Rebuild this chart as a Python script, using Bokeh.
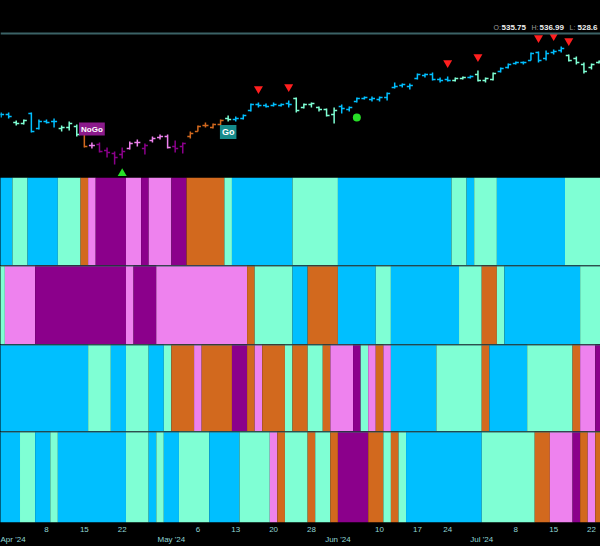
import pandas as pd
from bokeh.plotting import figure
from bokeh.layouts import column
from bokeh.models import (Range1d, FixedTicker, LinearAxis, Span, Label,
                          ColumnDataSource, GlobalInlineStyleSheet)
from bokeh.embed import file_html
from bokeh.resources import INLINE

# ---------------- data ----------------
holidays = ["2024-03-29", "2024-05-27", "2024-06-19", "2024-07-04"]
dates = [d for d in pd.bdate_range("2024-03-28", "2024-07-23")
         if d.strftime("%Y-%m-%d") not in holidays]

opens = [491.8, 491.8, 485.4, 484.6, 492.6, 480.6, 486.2, 486.2, 480.6, 481.4,
         482.2, 478.2, 467.0, 467.8, 463.0, 460.6, 459.8, 464.6, 469.4, 464.6,
         471.0, 473.4, 474.2, 466.2, 466.2, 474.2, 478.2, 483.0, 481.4, 483.8,
         488.6, 487.8, 488.6, 495.0, 499.8, 499.0, 499.0, 499.0, 500.6, 504.6,
         497.4, 499.8, 497.4, 495.8, 491.8, 498.2, 495.8, 502.2, 504.6, 503.8,
         503.8, 505.4, 513.4, 515.0, 514.2, 520.6, 523.0, 523.8, 519.8, 519.8,
         519.0, 520.6, 521.4, 523.8, 519.0, 519.8, 526.2, 529.4, 532.6, 533.4,
         535.0, 541.4, 536.6, 541.4, 543.0, 539.0, 536.6, 531.8, 529.4, 533.4]
highs = [493.4, 493.4, 487.0, 487.8, 493.4, 487.8, 487.8, 488.6, 483.0, 486.2,
         483.8, 479.8, 469.4, 469.4, 465.4, 462.2, 465.4, 470.2, 471.8, 468.6,
         474.2, 475.8, 475.8, 471.0, 469.4, 478.2, 483.0, 485.4, 484.6, 487.8,
         491.0, 490.2, 491.8, 500.6, 501.4, 500.6, 501.4, 500.6, 503.0, 505.4,
         500.6, 501.4, 498.2, 496.6, 497.4, 499.8, 498.2, 505.4, 506.2, 506.2,
         506.2, 509.4, 517.4, 516.6, 516.6, 524.6, 524.6, 525.4, 521.4, 522.2,
         521.4, 522.2, 523.0, 527.0, 521.4, 525.4, 529.4, 532.6, 534.2, 534.2,
         541.4, 542.2, 543.0, 543.8, 546.2, 539.8, 538.2, 533.4, 532.6, 535.0]
lows = [489.4, 488.6, 483.0, 483.8, 477.4, 479.8, 484.6, 481.4, 478.2, 479.0,
        474.2, 465.4, 464.6, 461.4, 457.4, 451.8, 456.6, 463.8, 466.2, 459.8,
        469.4, 471.8, 464.6, 461.4, 460.6, 472.6, 478.2, 481.4, 480.6, 483.0,
        486.2, 486.2, 487.8, 494.2, 497.4, 497.4, 498.2, 498.2, 497.4, 493.4,
        496.6, 497.4, 494.2, 490.2, 484.6, 492.6, 494.2, 501.4, 503.8, 502.2,
        502.2, 503.0, 512.6, 513.4, 511.8, 519.8, 521.4, 519.0, 517.4, 518.2,
        518.2, 519.8, 520.6, 518.2, 517.4, 519.0, 525.4, 528.6, 531.8, 531.8,
        535.0, 533.4, 535.0, 539.8, 541.4, 534.2, 531.8, 524.6, 527.8, 532.6]
closes = [491.8, 490.2, 484.6, 487.0, 478.2, 486.2, 485.4, 486.2, 481.4, 484.6,
          475.8, 466.2, 467.0, 462.2, 461.4, 457.4, 462.2, 468.6, 469.4, 467.0,
          472.6, 474.2, 465.4, 464.6, 468.6, 476.6, 482.2, 483.0, 483.8, 487.0,
          487.8, 488.6, 491.0, 499.8, 499.0, 498.2, 499.8, 499.8, 499.8, 495.0,
          499.8, 500.6, 495.8, 491.0, 495.0, 496.6, 497.4, 504.6, 505.4, 504.6,
          505.4, 508.6, 514.2, 515.8, 515.0, 523.8, 523.8, 519.8, 519.0, 519.0,
          520.6, 521.4, 522.2, 519.0, 520.6, 524.6, 528.6, 531.8, 533.4, 533.4,
          540.6, 535.0, 540.6, 542.2, 544.6, 535.0, 533.4, 526.2, 531.8, 534.2]

# GoNoGo states per day: B strong Go, A weak Go, O Go Fish, V weak NoGo, P strong NoGo
trend_state = list("BBAABBBBAAAOVPPPPVVPVVVPPOOOOOABBBBBBBBAAAAAA"
                   "BBBBBBBBBBBBBBBAABAAABBBBBBBBBAAAAA")
heat_row2 = list("AVVVVPPPPPPPPPPPPVPPPVVVVVVVVVVVVOAAAAABBOOOO"
                 "BBBBBAABBBBBBBBBAAAOOABBBBBBBBBBAAA")
heat_row3 = list("BBBBBBBBBBBBAAABBAAABBAOOOVOOOOPPOVOOOAOOAAOVVV"
                 "PAVOVBBBBBBAAAAAAOBBBBBAAAAAAOVVP")
heat_row4 = list("BBBAABBABBBBBBBBBAAABABBAAAABBBBAAAAVOAAAOAAOPPPP"
                 "OOAOABBBBBBBBBBAAAAAAAOOVVVPOVO")

sell_days = ["2024-05-16", "2024-05-22", "2024-06-24", "2024-06-28",
             "2024-07-11", "2024-07-15", "2024-07-17"]
buy_days = ["2024-04-22"]
dot_days = ["2024-06-05"]
nogo_day = "2024-04-16"
go_day = "2024-05-10"

week_tick_days = ["2024-04-08", "2024-04-15", "2024-04-22", "2024-05-06",
                  "2024-05-13", "2024-05-20", "2024-05-28", "2024-06-10",
                  "2024-06-17", "2024-06-24", "2024-07-08", "2024-07-15",
                  "2024-07-22"]
week_tick_labels = ["8", "15", "22", "6", "13", "20", "28", "10", "17", "24",
                    "8", "15", "22"]
month_tick_days = ["2024-04-01", "2024-05-01", "2024-06-03", "2024-07-01"]
month_tick_labels = ["Apr '24", "May '24", "Jun '24", "Jul '24"]

readout_labels = ["O:", "H:", "L:"]
readout_values = ["535.75", "536.99", "528.6"]

# ---------------- styling ----------------
COL = {"B": "#00BFFF", "A": "#7FFFD4", "O": "#D2691E",
       "V": "#EE82EE", "P": "#8B008B"}
BG = "#000000"
SEP = "#3b6266"
LABEL_COLOR = "#8fd6d6"
FONT = "Liberation Sans"
W = 600

day_str = [d.strftime("%Y-%m-%d") for d in dates]
pos = {s: i for i, s in enumerate(day_str)}
idx = list(range(len(dates)))
x_range = Range1d(-0.077, 79.19)


def base_fig(height, **kw):
    f = figure(width=W, height=height, x_range=x_range,
               output_backend="svg", toolbar_location=None,
               x_axis_type=None, y_axis_type=None,
               min_border_left=0, min_border_right=0,
               min_border_top=0, min_border_bottom=0,
               background_fill_color=BG, border_fill_color=BG,
               outline_line_color=None, **kw)
    f.grid.visible = False
    return f


# ---------------- price pane ----------------
p = base_fig(177, y_range=Range1d(441.4, 583.0))
p.add_layout(Span(location=556.6, dimension="width",
                  line_color=SEP, line_width=2))

src = ColumnDataSource(dict(
    x=idx, xl=[i - 0.4 for i in idx], xr=[i + 0.4 for i in idx],
    o=opens, h=highs, l=lows, c=closes,
    col=[COL[s] for s in trend_state]))
p.segment(x0="x", y0="l", x1="x", y1="h", source=src,
          line_color="col", line_width=1.5)
p.segment(x0="xl", y0="o", x1="x", y1="o", source=src,
          line_color="col", line_width=1.5)
p.segment(x0="x", y0="c", x1="xr", y1="c", source=src,
          line_color="col", line_width=1.5)

p.scatter([pos[d] for d in sell_days], [highs[pos[d]] + 11 for d in sell_days],
          marker="inverted_triangle", size=9, fill_color="#ff1f1f",
          line_color=None)
p.scatter([pos[d] for d in buy_days], [lows[pos[d]] - 12 for d in buy_days],
          marker="triangle", size=9, fill_color="#27e027", line_color=None)
p.scatter([pos[d] for d in dot_days], [lows[pos[d]] - 12 for d in dot_days],
          marker="circle", size=8, fill_color="#27e027", line_color=None)

p.add_layout(Label(x=pos[nogo_day], y=highs[pos[nogo_day]] + 10.8, text="NoGo",
                   text_font=FONT, text_font_size="8px", text_font_style="bold",
                   text_color="#ffffff", text_align="center",
                   text_baseline="middle", background_fill_color="#8B1A8B",
                   padding=2))
p.add_layout(Label(x=pos[go_day], y=lows[pos[go_day]] - 8.4, text="Go",
                   text_font=FONT, text_font_size="9px", text_font_style="bold",
                   text_color="#ffffff", text_align="center",
                   text_baseline="middle", background_fill_color="#168b8b",
                   padding=2))

readout_x = [493, 531, 569]
for lx, lab, val in zip(readout_x, readout_labels, readout_values):
    p.add_layout(Label(x=lx, y=150, x_units="screen", y_units="screen",
                       text=lab, text_font=FONT, text_font_size="7px",
                       text_color="#9a9a9a", text_baseline="middle"))
    p.add_layout(Label(x=lx + 8, y=150, x_units="screen", y_units="screen",
                       text=val, text_font=FONT, text_font_size="8px",
                       text_font_style="bold", text_color="#eeeeee",
                       text_baseline="middle"))


# ---------------- heat rows ----------------
def runs(states):
    """Merge consecutive equal states into (first, last, state) runs."""
    out = []
    start = 0
    for i in range(1, len(states) + 1):
        if i == len(states) or states[i] != states[start]:
            out.append((start, i - 1, states[start]))
            start = i
    return out


def heat(states, height, sep):
    f = base_fig(height, y_range=Range1d(0, 1))
    r = runs(states)
    f.quad(left=[a - 0.5 for a, b, s in r], right=[b + 0.5 for a, b, s in r],
           bottom=0, top=1, fill_color=[COL[s] for a, b, s in r],
           line_color=None)
    if sep:
        f.add_layout(Span(location=1, dimension="width",
                          line_color=SEP, line_width=2))
    return f


h1 = heat(trend_state, 88, False)
h2 = heat(heat_row2, 79, True)
h3 = heat(heat_row3, 87, True)
h4 = heat(heat_row4, 115, True)

day_axis = LinearAxis(ticker=FixedTicker(ticks=[pos[d] for d in week_tick_days]),
                      major_label_overrides={pos[d]: t for d, t in
                                             zip(week_tick_days, week_tick_labels)})
month_axis = LinearAxis(ticker=FixedTicker(ticks=[pos[d] - 0.5 for d in month_tick_days]),
                        major_label_overrides={pos[d] - 0.5: t for d, t in
                                               zip(month_tick_days, month_tick_labels)})
for ax, standoff in ((day_axis, 4), (month_axis, 0)):
    ax.axis_line_color = None
    ax.major_tick_line_color = None
    ax.minor_tick_line_color = None
    ax.major_tick_out = 0
    ax.major_tick_in = 0
    ax.major_label_standoff = standoff
    ax.major_label_text_color = LABEL_COLOR
    ax.major_label_text_font = FONT
    ax.major_label_text_font_size = "8px"
    h4.add_layout(ax, "below")

root = column(p, h1, h2, h3, h4, spacing=0,
              stylesheets=[GlobalInlineStyleSheet(css="body{background:#000;}")])

open("out.html", "w").write(file_html(root, INLINE))
